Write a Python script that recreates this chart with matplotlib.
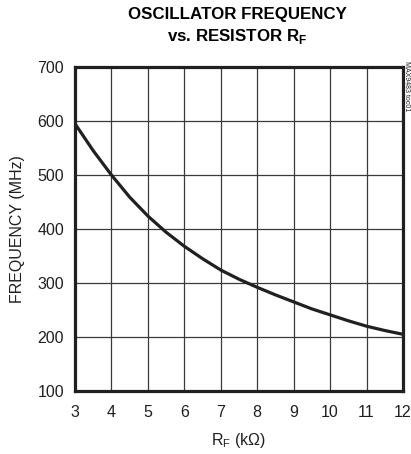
import matplotlib.pyplot as plt

# data
rf_kohm = [3, 3.5, 4, 4.5, 5, 5.5, 6, 6.5, 7, 7.5, 8, 8.5, 9, 9.5, 10, 10.5, 11, 11.5, 12]
freq_mhz = [595, 545, 500, 459, 424, 394, 368, 345, 324, 307, 292, 278, 265, 252, 241, 230, 220, 212, 205]
x_ticks = [3, 4, 5, 6, 7, 8, 9, 10, 11, 12]
y_ticks = [100, 200, 300, 400, 500, 600, 700]

plt.rcParams['font.family'] = ['Liberation Sans Narrow', 'Liberation Sans', 'DejaVu Sans']

fig = plt.figure(figsize=(4.11, 4.54), dpi=100)
ax = fig.add_axes([75/411, 1 - 391/454, 328/411, 324/454])

ax.plot(rf_kohm, freq_mhz, color='#231f20', lw=2.3, solid_capstyle='butt', zorder=3)

ax.set_xlim(3, 12)
ax.set_ylim(100, 700)
ax.set_xticks(x_ticks)
ax.set_yticks(y_ticks)
ax.grid(True, color='#3a3a3a', lw=0.9)
ax.tick_params(length=0, labelsize=11.5, colors='#231f20')
ax.tick_params(axis='x', pad=10)
ax.tick_params(axis='y', pad=8)
for s in ax.spines.values():
    s.set_linewidth(2.3)
    s.set_color('#231f20')

ax.set_xlabel('R$_\\mathregular{F}$ (k\u03a9)', fontsize=11.5, labelpad=8, color='#231f20')
ax.set_ylabel('FREQUENCY (MHz)', fontsize=11.5, labelpad=9, color='#231f20')

fig.text(0.577, 0.969, 'OSCILLATOR FREQUENCY', ha='center', va='center',
         fontsize=12.2, fontweight='bold', color='#000000')
fig.text(0.577, 0.919, 'vs. RESISTOR R$_\\mathregular{F}$', ha='center', va='center',
         fontsize=12.2, fontweight='bold', color='#000000')
fig.text(0.997, 0.81, 'MAX9483 toc01', rotation=270, ha='right', va='center',
         fontsize=5, color='#231f20')

fig.savefig('out.png', dpi=100)
